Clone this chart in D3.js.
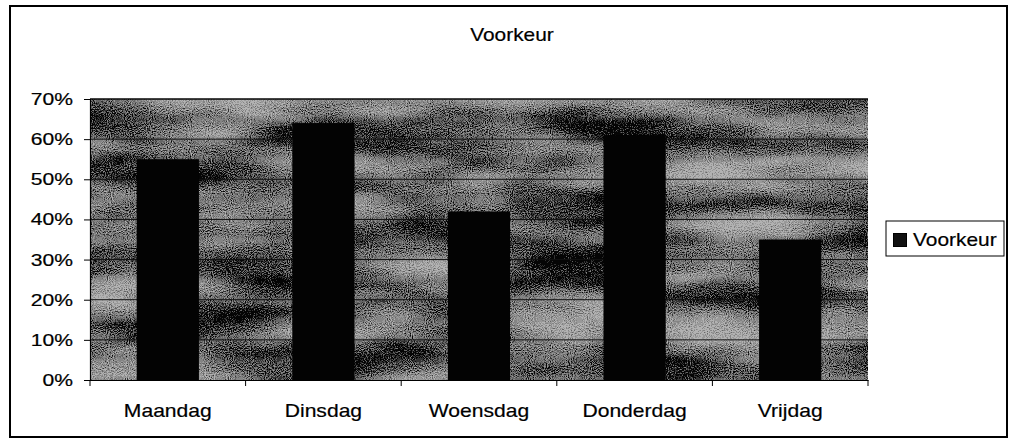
<!DOCTYPE html>
<html>
<head>
<meta charset="utf-8">
<script src="https://cdn.jsdelivr.net/npm/d3@7"></script>
<style>
  html, body { margin: 0; padding: 0; background: #fff; }
  svg text { font-family: Arial, "Liberation Sans", sans-serif; fill: #000; stroke: #000; stroke-width: 0.2px; }
</style>
</head>
<body>
<svg id="chart" width="1009" height="444"></svg>
<script>
const categories = ["Maandag", "Dinsdag", "Woensdag", "Donderdag", "Vrijdag"];
const values = [0.55, 0.64, 0.42, 0.61, 0.35];
const yTicks = [0, 0.1, 0.2, 0.3, 0.4, 0.5, 0.6, 0.7];
const title = "Voorkeur";
const seriesName = "Voorkeur";

const svg = d3.select("#chart");
const plot = { left: 90, right: 868, top: 99, bottom: 380 };

// outer frame
svg.append("rect")
  .attr("x", 10).attr("y", 6).attr("width", 997).attr("height", 431)
  .attr("fill", "#fff").attr("stroke", "#000").attr("stroke-width", 2);

// texture filter for plot background
const defs = svg.append("defs");
const f = defs.append("filter").attr("id", "tex")
  .attr("filterUnits", "objectBoundingBox")
  .attr("x", 0).attr("y", 0).attr("width", 1).attr("height", 1)
  .attr("color-interpolation-filters", "sRGB");
f.append("feTurbulence").attr("type", "fractalNoise")
  .attr("baseFrequency", "0.006 0.026").attr("numOctaves", 3).attr("seed", 5).attr("result", "low");
f.append("feColorMatrix").attr("in", "low").attr("type", "matrix")
  .attr("values", "1 0 0 0 0  1 0 0 0 0  1 0 0 0 0  0 0 0 0 1").attr("result", "lowg");
f.append("feTurbulence").attr("type", "fractalNoise")
  .attr("baseFrequency", "0.95").attr("numOctaves", 1).attr("seed", 11).attr("result", "hi");
f.append("feColorMatrix").attr("in", "hi").attr("type", "matrix")
  .attr("values", "1 0 0 0 0  1 0 0 0 0  1 0 0 0 0  0 0 0 0 1").attr("result", "hig");
f.append("feComposite").attr("in", "lowg").attr("in2", "hig").attr("operator", "arithmetic")
  .attr("k1", 0).attr("k2", 1.5).attr("k3", 1.7).attr("k4", -1.15).attr("result", "sum");
const ct = f.append("feComponentTransfer").attr("in", "sum");
["feFuncR", "feFuncG", "feFuncB"].forEach(n =>
  ct.append(n).attr("type", "discrete").attr("tableValues", "0.02 0.2 0.4 0.52 0.6 0.7"));
ct.append("feFuncA").attr("type", "linear").attr("slope", 0).attr("intercept", 1);

svg.append("rect")
  .attr("x", plot.left).attr("y", plot.top)
  .attr("width", plot.right - plot.left).attr("height", plot.bottom - plot.top)
  .attr("fill", "#888").attr("filter", "url(#tex)");

const x = d3.scaleBand().domain(categories)
  .range([plot.left, plot.right]).paddingInner(0.6).paddingOuter(0.3);
const y = d3.scaleLinear().domain([0, 0.7]).range([plot.bottom, plot.top]);

// gridlines
svg.append("g").selectAll("line").data(yTicks.filter(d => d > 0)).join("line")
  .attr("x1", plot.left).attr("x2", plot.right)
  .attr("y1", d => y(d)).attr("y2", d => y(d))
  .attr("stroke", "#111").attr("stroke-width", 1);

// bars
svg.append("g").selectAll("rect").data(values).join("rect")
  .attr("x", (d, i) => x(categories[i]))
  .attr("y", d => y(d))
  .attr("width", x.bandwidth())
  .attr("height", d => y(0) - y(d))
  .attr("fill", "#030303");

// y axis
const yAxis = svg.append("g").attr("transform", `translate(${plot.left},0)`)
  .call(d3.axisLeft(y).tickValues(yTicks).tickFormat(d3.format(".0%")).tickSize(6).tickPadding(11));
yAxis.select(".domain").attr("stroke", "#000").attr("stroke-width", 1.2);
yAxis.selectAll(".tick line").attr("stroke", "#000");
yAxis.selectAll("text").attr("font-size", 17).attr("class", "stretch s125")
  .attr("font-family", "Arial, 'Liberation Sans', sans-serif");

// x axis (baseline, boundary ticks, labels)
const xAxis = svg.append("g").attr("transform", `translate(0,${plot.bottom})`)
  .call(d3.axisBottom(x).tickSize(0).tickPadding(24));
xAxis.select(".domain").attr("stroke", "#000").attr("stroke-width", 1.2);
xAxis.selectAll("text").attr("font-size", 19).attr("class", "stretch s111")
  .attr("font-family", "Arial, 'Liberation Sans', sans-serif");
const bounds = categories.map(c => x(c) - x.step() * x.paddingOuter()).concat([plot.right]);
xAxis.append("g").selectAll("line").data(bounds).join("line")
  .attr("x1", d => d).attr("x2", d => d).attr("y1", 0).attr("y2", 6)
  .attr("stroke", "#000");

// plot top border
svg.append("line").attr("x1", plot.left).attr("x2", plot.right)
  .attr("y1", plot.top).attr("y2", plot.top).attr("stroke", "#000").attr("stroke-width", 1.2);

// title
svg.append("text").attr("x", 512).attr("y", 41).attr("text-anchor", "middle")
  .attr("font-size", 19).attr("class", "stretch s110").text(title);

// legend
const lg = svg.append("g");
lg.append("rect").attr("x", 886).attr("y", 221).attr("width", 118).attr("height", 35)
  .attr("fill", "#fff").attr("stroke", "#000").attr("stroke-width", 1);
lg.append("rect").attr("x", 893.5).attr("y", 233.5).attr("width", 13).attr("height", 13)
  .attr("fill", "#111").attr("stroke", "#000");
lg.append("text").attr("x", 913).attr("y", 246).attr("font-size", 19)
  .attr("class", "stretch s110").text(seriesName);

// horizontal stretch of text to match the reference's wide glyphs
const factors = { s125: 1.24, s111: 1.11, s110: 1.10 };
svg.selectAll("text.stretch").each(function () {
  const t = d3.select(this);
  const cls = this.getAttribute("class").split(" ").find(c => factors[c]);
  const len = this.getComputedTextLength();
  t.attr("textLength", len * factors[cls]).attr("lengthAdjust", "spacingAndGlyphs");
});
</script>
</body>
</html>
